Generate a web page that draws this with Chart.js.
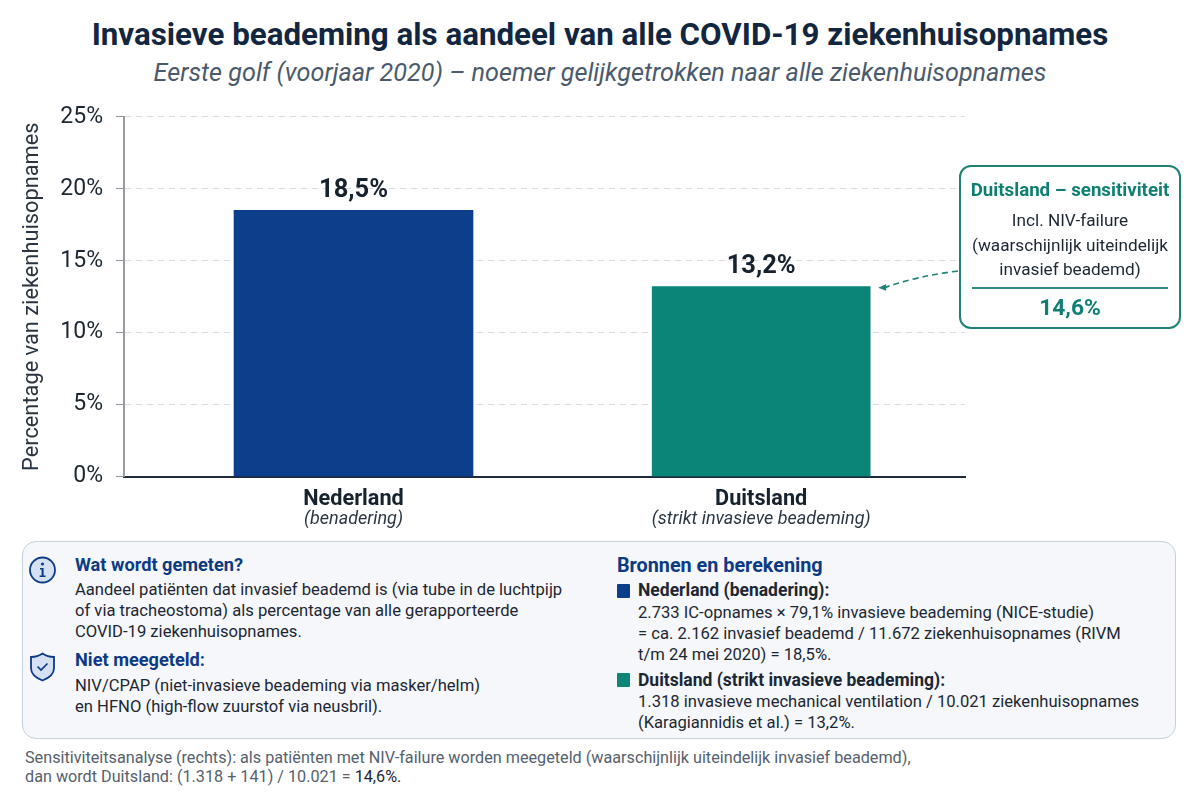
<!DOCTYPE html>
<html lang="nl">
<head>
<meta charset="utf-8">
<title>Invasieve beademing</title>
<script src="https://cdn.jsdelivr.net/npm/chart.js"></script>
<style>
  html, body { margin: 0; padding: 0; background: #fff; }
  body { width: 1200px; height: 800px; position: relative; overflow: hidden; font-family: Roboto, sans-serif; color: #1c2733; }
  .abs { position: absolute; white-space: nowrap; }
  #title { left: 0; width: 1200px; top: 16px; text-align: center; font-size: 31.3px; line-height: 38px; font-weight: 700; color: #12263f; }
  #subtitle { left: 0; width: 1200px; top: 58px; text-align: center; font-size: 25.2px; line-height: 30px; font-style: italic; color: #4a5a6c; }
  #chartCanvas { position: absolute; left: 0; top: 90px; }
  #callout { position: absolute; left: 959px; top: 165px; width: 218px; height: 160px; border: 2px solid #1f8277; border-radius: 12px; background: #fff; text-align: center; }
  #callout .head { position: absolute; left: 0; right: 0; top: 12px; font-size: 18.7px; line-height: 22px; font-weight: 700; color: #0f7f72; }
  #callout .body { position: absolute; left: 0; right: 0; top: 41px; font-size: 17.2px; line-height: 24.5px; color: #1c2733; }
  #callout .rule { position: absolute; left: 11px; right: 11px; top: 120px; height: 2px; background: #2f8f84; }
  #callout .num { position: absolute; left: 0; right: 0; top: 128px; font-size: 22.8px; line-height: 26px; font-weight: 700; color: #0f7f72; }
  #panel { position: absolute; left: 22px; top: 541px; width: 1152px; height: 196px; border: 1.5px solid #c6cfda; border-radius: 14px; background: #f5f7fb; }
  .h { font-size: 18.2px; line-height: 22px; font-weight: 700; color: #0d3a85; }
  .t { font-size: 16.6px; line-height: 21px; color: #1c2733; }
  .b { font-size: 17.5px; line-height: 21px; font-weight: 700; color: #1c2733; }
  .sq { position: absolute; width: 13px; height: 14px; border-radius: 1px; }
  #foot { left: 25px; top: 748px; font-size: 16.2px; line-height: 19px; color: #55616d; }
  #foot span { color: #1c2733; }
</style>
</head>
<body>
<div id="title" class="abs">Invasieve beademing als aandeel van alle COVID-19 ziekenhuisopnames</div>
<div id="subtitle" class="abs">Eerste golf (voorjaar 2020) – noemer gelijkgetrokken naar alle ziekenhuisopnames</div>

<canvas id="chartCanvas" width="1200" height="450"></canvas>

<div id="callout">
  <div class="head">Duitsland – sensitiviteit</div>
  <div class="body">Incl. NIV-failure<br>(waarschijnlijk uiteindelijk<br>invasief beademd)</div>
  <div class="rule"></div>
  <div class="num">14,6%</div>
</div>

<div id="panel"></div>
<svg class="abs" style="left:28px;top:555px" width="30" height="30" viewBox="0 0 30 30">
  <circle cx="14.5" cy="15" r="12.5" fill="#d5e1f3" stroke="#0d3a85" stroke-width="1.8"/>
  <circle cx="14.5" cy="9" r="1.6" fill="#0d3a85"/>
  <path d="M12 13h3.6v7.4h2v1.6h-6v-1.6h2v-5.8h-1.6z" fill="#0d3a85"/>
</svg>
<svg class="abs" style="left:28px;top:651px" width="30" height="32" viewBox="0 0 30 32">
  <path d="M14.5 2.5C18 5 22 6 26 6v11c0 6-5 10-11.500 12.500C8 27 3 23 3 17V6c4 0 8-1 11.500-3.500z" fill="#d5e1f3" stroke="#0d3a85" stroke-width="1.8"/>
  <path d="M9.500 15.500l3.500 3.500 6.500-6.500" fill="none" stroke="#0d3a85" stroke-width="1.7"/>
</svg>
<div class="abs h" style="left:75px;top:554px">Wat wordt gemeten?</div>
<div class="abs t" style="left:75px;top:579px">Aandeel patiënten dat invasief beademd is (via tube in de luchtpijp<br>of via tracheostoma) als percentage van alle gerapporteerde<br>COVID-19 ziekenhuisopnames.</div>
<div class="abs h" style="left:75px;top:649px">Niet meegeteld:</div>
<div class="abs t" style="left:75px;top:675px">NIV/CPAP (niet-invasieve beademing via masker/helm)<br>en HFNO (high-flow zuurstof via neusbril).</div>

<div class="abs h" style="left:617px;top:555px;font-size:19.8px">Bronnen en berekening</div>
<div class="sq" style="left:617px;top:584px;background:#0b3f8c"></div>
<div class="abs b" style="left:638px;top:580px">Nederland (benadering):</div>
<div class="abs t" style="left:638px;top:602px">2.733 IC-opnames × 79,1% invasieve beademing (NICE-studie)<br>= ca. 2.162 invasief beademd / 11.672 ziekenhuisopnames (RIVM<br>t/m 24 mei 2020) = 18,5%.</div>
<div class="sq" style="left:617px;top:673px;background:#0f8577"></div>
<div class="abs b" style="left:638px;top:670px">Duitsland (strikt invasieve beademing):</div>
<div class="abs t" style="left:638px;top:691px">1.318 invasieve mechanical ventilation / 10.021 ziekenhuisopnames<br>(Karagiannidis et al.) = 13,2%.</div>

<div id="foot" class="abs">Sensitiviteitsanalyse (rechts): als patiënten met NIV-failure worden meegeteld (waarschijnlijk uiteindelijk invasief beademd),<br>dan wordt Duitsland: (1.318 + 141) / 10.021 = <span>14,6%.</span></div>

<script>
const categories = ['Nederland', 'Duitsland'];
const subLabels = ['(benadering)', '(strikt invasieve beademing)'];
const shares = [18.5, 13.2];
const shareLabels = ['18,5%', '13,2%'];
const barColors = ['#0b3f8c', '#0a8578'];
const barWidths = [239, 218];
const yTicks = [0, 5, 10, 15, 20, 25];

// value labels, the italic second line under the axis, and the dashed arrow to the callout
const extras = {
  id: 'extras',
  afterDatasetsDraw(chart) {
    const ctx = chart.ctx;
    const x = chart.scales.x;
    ctx.save();
    ctx.textAlign = 'center';
    ctx.textBaseline = 'middle';
    categories.forEach((c, i) => {
      const bar = chart.getDatasetMeta(i).data[0];
      ctx.fillStyle = '#16222e';
      ctx.font = '700 25.5px Roboto';
      ctx.fillText(shareLabels[i], bar.x, bar.y - 20);
      ctx.fillStyle = '#2a3642';
      ctx.font = 'italic 18px Roboto';
      ctx.fillText(subLabels[i], x.getPixelForValue(i), x.top + 43);
    });

    const de = chart.getDatasetMeta(1).data[0];
    const tipX = de.x + de.width / 2 + 8;
    const tipY = de.y + 1;
    ctx.strokeStyle = '#1f8277';
    ctx.lineWidth = 1.6;
    ctx.setLineDash([6, 4]);
    ctx.beginPath();
    ctx.moveTo(958, 181);
    ctx.quadraticCurveTo(918, 186, tipX + 6, tipY);
    ctx.stroke();
    ctx.setLineDash([]);
    ctx.fillStyle = '#1f8277';
    ctx.beginPath();
    ctx.moveTo(tipX, tipY);
    ctx.lineTo(tipX + 8, tipY - 3.5);
    ctx.lineTo(tipX + 8, tipY + 3);
    ctx.closePath();
    ctx.fill();
    ctx.restore();
  }
};

new Chart(document.getElementById('chartCanvas'), {
  type: 'bar',
  data: {
    datasets: categories.map((c, i) => ({
      label: c,
      data: [{ x: i, y: shares[i] }],
      backgroundColor: barColors[i],
      barThickness: barWidths[i],
      grouped: false
    }))
  },
  options: {
    responsive: false,
    animation: false,
    devicePixelRatio: 1,
    layout: { padding: { top: 25, right: 235, left: 0, bottom: 0 } },
    plugins: { legend: { display: false }, tooltip: { enabled: false } },
    scales: {
      x: {
        type: 'linear',
        offset: false,
        min: -0.563,
        max: 1.5,
        afterBuildTicks(axis) { axis.ticks = categories.map((c, i) => ({ value: i })); },
        afterFit(axis) { axis.height = 63.3; },
        grid: { display: false, drawTicks: false },
        border: { color: '#1d2b3a', width: 2 },
        ticks: {
          autoSkip: false,
          maxRotation: 0,
          padding: 10,
          color: '#16222e',
          font: { family: 'Roboto', size: 21.7, weight: '700' },
          callback: v => categories[v]
        }
      },
      y: {
        min: 0,
        max: 25,
        afterBuildTicks(axis) { axis.ticks = yTicks.map(v => ({ value: v })); },
        afterFit(axis) { axis.width = 124; },
        grid: { color: '#d9dbde', tickColor: '#8f9398', tickLength: 8 },
        border: { color: '#96999e', width: 2, dash: [6, 5] },
        ticks: {
          padding: 13,
          color: '#1d2733',
          font: { family: 'Roboto', size: 23 },
          callback: v => v + '%'
        },
        title: {
          display: true,
          text: 'Percentage van ziekenhuisopnames',
          color: '#2a3440',
          font: { family: 'Roboto', size: 21.8 },
          padding: { top: 19, bottom: 0 }
        }
      }
    }
  },
  plugins: [extras]
});
</script>
</body>
</html>
